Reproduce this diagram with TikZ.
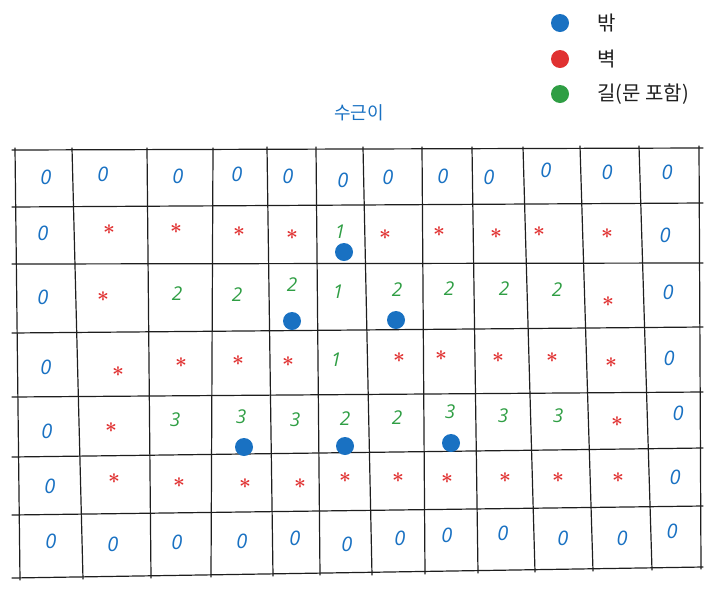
\documentclass[tikz,border=0pt]{standalone}
\usepackage{fontspec}
\newfontfamily\kofont{Noto Sans CJK KR}
\newfontfamily\digfont{Open Sans}
\definecolor{cblue}{HTML}{1971C2}
\definecolor{cred}{HTML}{E03131}
\definecolor{cgreen}{HTML}{2F9E44}
\definecolor{cink}{HTML}{1E1E1E}
\tikzset{
  gridline/.style={draw=cink, line width=1.2pt, line cap=round},
  zero/.style={text=cblue, font=\digfont\fontsize{20}{20}\selectfont\itshape, inner sep=0pt},
  wall/.style={text=cred, font=\fontsize{20}{20}\selectfont\boldmath, inner sep=0pt},
  road/.style={text=cgreen, font=\digfont\fontsize{19}{19}\selectfont\itshape, inner sep=0pt},
  exitdot/.style={circle, fill=cblue, minimum size=18pt, inner sep=0pt},
  legdot/.style={circle, minimum size=18pt, inner sep=0pt},
  legtext/.style={anchor=west, text=cink, font=\kofont\fontsize{20}{20}\selectfont, inner sep=0pt},
}
\begin{document}
\begin{tikzpicture}[x=1pt, y=-1pt]
\useasboundingbox (0,0) rectangle (712,590);
% legend
\node[legdot, fill=cblue] (d1) at (560,23) {};
\node[legdot, fill=cred] (d2) at (560,59) {};
\node[legdot, fill=cgreen] (d3) at (560,94) {};
\node[legtext] (l1) at (597,23) {밖};
\node[legtext] (l2) at (597,59) {벽};
\node[legtext] (l3) at (597,94) {길(문 포함)};
% title
\node[text=cblue, font=\kofont\fontsize{18}{18}\selectfont] (title) at (359,113) {수근이};
% vertical grid lines
\foreach \xt/\xb/\yt/\yb in {15/20/148/580, 72/83/148/579, 147/151/148/578, 213/211/148/577,
  267/273/147/576, 316/320/147/575, 363/372/147/575, 422/425/147/574, 472/478/147/573,
  523/535/147/572, 580/593/146/571, 639/652/146/570, 699/701/146/569}
  \draw[gridline] (\xt,\yt) -- (\xb,\yb);
% horizontal grid lines
\foreach \yl/\yr in {150/148, 207/203, 264/263, 333/327, 397/392, 457/448, 515/506, 578/567}
  \draw[gridline] (12,\yl) -- (703,\yr);
% zeros
\foreach \x/\y [count=\i] in {46/177,103/174,178/176,237/174,288/176,343/180,388/177,443/176,489/177,546/170,607/172,667/172,
  43/233,665/235,43/297,668/292,46/367,669/358,47/431,678/413,50/486,675/477,
  51/541,113/544,177/542,242/541,295/538,347/544,400/538,447/535,503/533,563/538,622/538,672/531}
  \node[zero] (z\i) at (\x,\y) {0};
% walls
\foreach \x/\y [count=\i] in {109/230,176/229,239/232,292/235,385/235,439/232,496/234,539/232,607/234,
  103/297,608/302,
  118/372,181/363,238/361,288/362,399/358,441/356,498/358,552/358,611/363,
  111/428,617/422,
  114/479,179/483,245/484,300/484,345/478,398/478,447/479,505/478,558/478,618/478}
  \node[wall] (w\i) at (\x,\y) {$\ast$};
% roads
\foreach \x/\y/\t [count=\i] in {340/232/1,
  177/294/2,237/295/2,292/285/2,338/292/1,397/290/2,449/289/2,504/289/2,557/290/2,
  336/360/1,
  175/420/3,241/417/3,295/420/3,345/419/2,397/418/2,450/412/3,503/416/3,558/416/3}
  \node[road] (r\i) at (\x,\y) {\t};
% exit dots
\foreach \x/\y [count=\i] in {344/252,292/321,396/320,244/447,345/446,451/443}
  \node[exitdot] (e\i) at (\x,\y) {};
\end{tikzpicture}
\end{document}
